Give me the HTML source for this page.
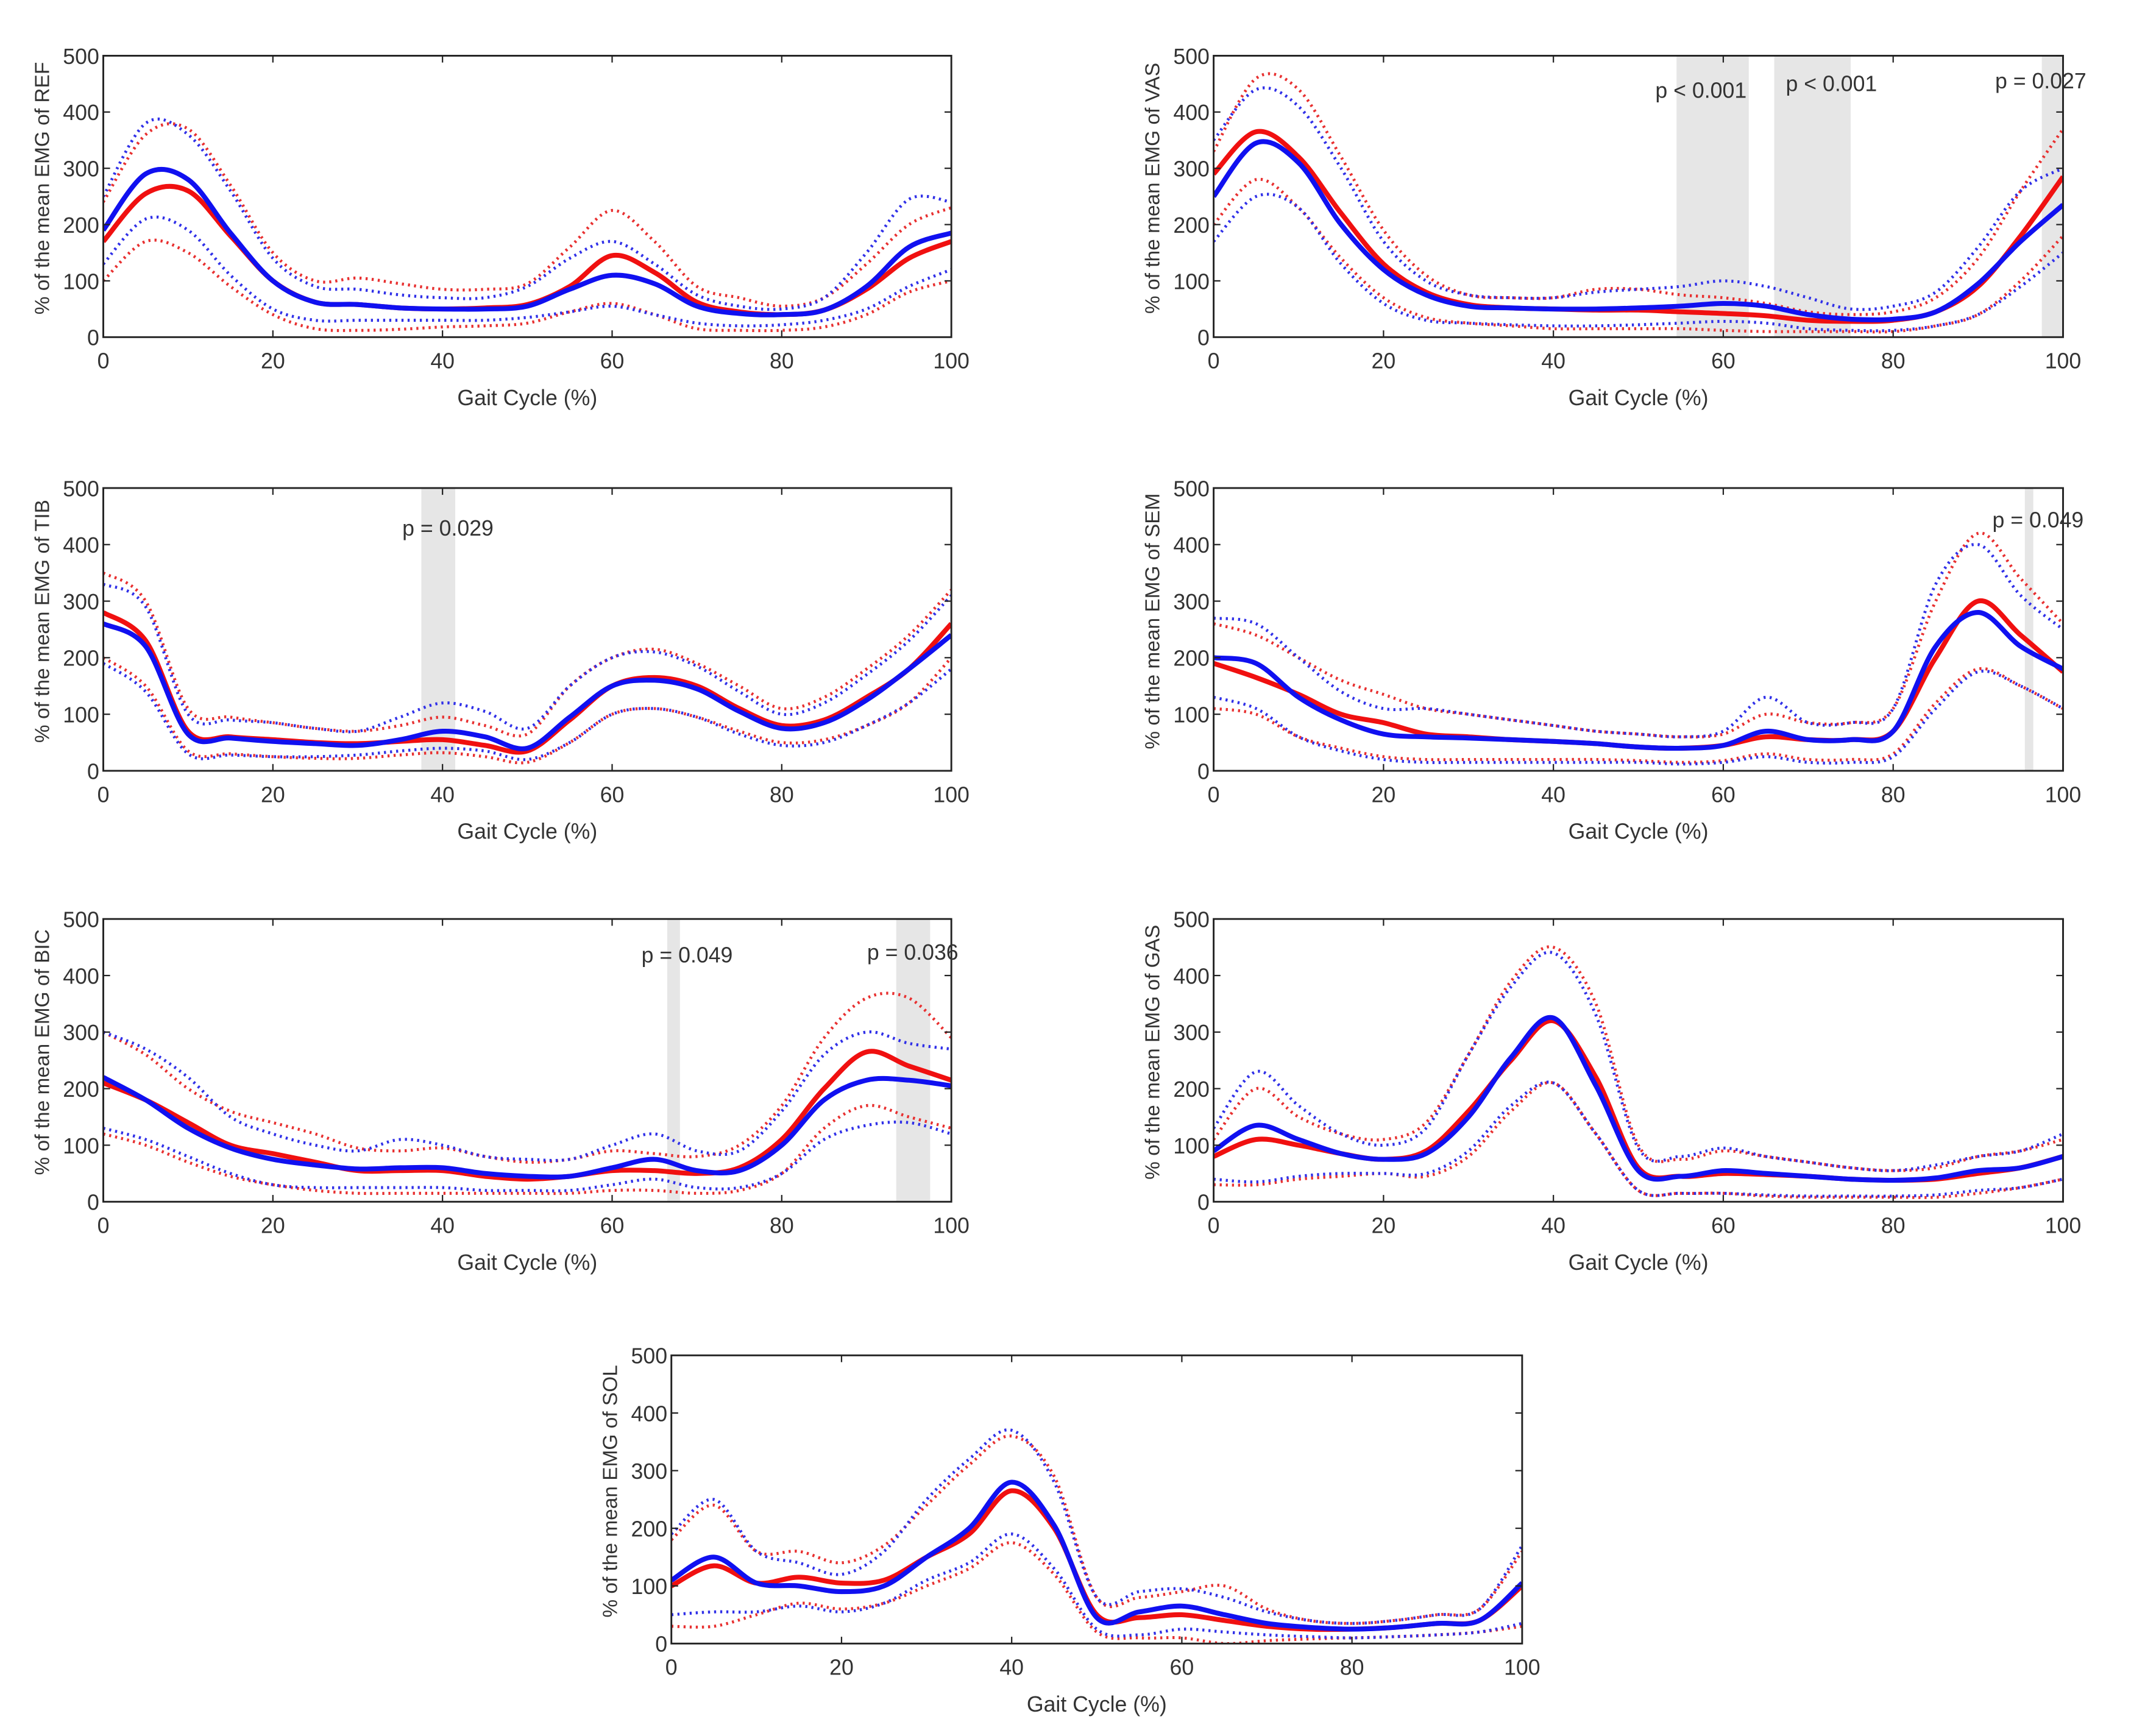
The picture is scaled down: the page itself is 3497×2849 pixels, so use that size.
<!DOCTYPE html>
<html><head><meta charset="utf-8"><style>
html,body{margin:0;padding:0;background:#fff;}
svg{display:block;}
text{font-family:"Liberation Sans",sans-serif;fill:#333;}
</style></head><body>
<svg id="fig" width="3497" height="2849" viewBox="0 0 1568 1277" preserveAspectRatio="none" xmlns="http://www.w3.org/2000/svg"></svg>
<script>
const xs=[0,5,10,15,20,25,30,35,40,45,50,55,60,65,70,75,80,85,90,95,100];
const xTicks=[0,20,40,60,80,100];
const yTicks=[0,100,200,300,400,500];
const refRed=[170,255,260,180,100,62,58,52,50,52,58,90,145,115,62,45,40,48,85,140,170];
const refBlue=[190,290,280,185,100,62,58,52,50,50,55,85,110,95,55,42,40,48,90,160,185];
const refRedUp=[240,360,370,270,150,100,105,95,85,85,95,160,225,170,90,70,55,70,130,200,230];
const refRedLo=[100,170,150,90,40,15,12,14,18,20,25,45,60,40,15,12,12,18,40,80,100];
const refBlueUp=[250,380,360,260,140,90,85,75,70,70,90,140,170,130,75,55,50,70,150,245,240];
const refBlueLo=[130,210,190,110,50,30,30,30,30,30,35,45,55,40,25,20,22,30,50,90,120];
const vasRed=[290,365,320,220,130,80,58,52,50,48,48,45,42,38,30,28,30,45,90,180,285];
const vasBlue=[250,345,310,200,120,75,55,52,50,50,52,55,60,55,40,32,32,45,95,170,235];
const vasRedUp=[330,460,440,320,190,110,75,70,70,85,85,75,70,60,45,40,45,70,140,260,370];
const vasRedLo=[200,280,230,140,70,35,25,20,15,15,15,15,12,10,10,10,10,20,40,100,180];
const vasBlueUp=[350,440,410,300,170,100,75,70,70,80,85,90,100,90,70,50,55,80,160,260,300];
const vasBlueLo=[170,250,230,130,60,30,25,22,20,20,22,25,28,25,15,12,12,20,40,90,150];
const tibRed=[280,230,70,60,55,50,48,52,55,45,35,90,150,165,150,110,80,90,130,180,260];
const tibBlue=[260,220,65,58,52,48,45,55,70,60,40,95,150,160,145,105,75,85,125,180,240];
const tibRedUp=[350,300,110,95,85,75,70,80,95,80,65,150,200,215,190,150,110,130,180,240,320];
const tibRedLo=[200,150,35,30,25,22,22,28,32,25,15,50,100,110,95,70,50,55,80,120,200];
const tibBlueUp=[330,290,100,90,85,75,70,95,120,105,75,150,200,210,185,140,100,120,170,230,310];
const tibBlueLo=[190,140,30,28,25,25,28,35,40,35,20,50,100,110,95,65,45,50,80,120,180];
const semRed=[190,165,135,100,85,65,60,55,52,48,42,40,45,60,55,55,70,200,300,240,175];
const semBlue=[200,190,130,90,65,60,58,55,52,48,42,40,45,70,55,55,70,220,280,220,180];
const semRedUp=[260,240,200,160,135,110,100,90,80,70,65,60,65,100,85,85,110,300,420,340,260];
const semRedLo=[110,100,60,40,25,20,20,20,20,20,18,15,18,30,20,20,30,120,180,150,110];
const semBlueUp=[270,260,200,140,110,110,100,90,80,70,65,60,70,130,85,85,110,330,400,310,250];
const semBlueLo=[130,110,60,35,20,15,15,15,15,15,15,12,15,25,15,15,25,110,175,150,110];
const bicRed=[210,180,140,100,85,70,55,55,55,45,40,45,55,55,50,60,110,200,265,240,215];
const bicBlue=[220,180,130,95,75,65,58,60,60,50,45,45,60,75,55,55,100,180,215,215,205];
const bicRedUp=[300,260,200,160,140,120,95,90,95,80,70,75,90,85,80,100,170,290,360,360,290];
const bicRedLo=[120,100,70,45,30,20,15,15,15,15,15,15,20,20,15,20,50,130,170,150,130];
const bicBlueUp=[300,270,220,150,120,100,90,110,100,80,75,75,100,120,90,90,160,260,300,280,270];
const bicBlueLo=[130,110,80,50,30,25,25,25,25,20,20,20,30,40,25,25,50,110,135,140,120];
const gasRed=[80,110,100,85,75,90,160,250,320,220,60,45,50,48,45,40,38,40,50,60,80];
const gasBlue=[90,135,110,85,75,85,150,255,325,205,55,45,55,50,45,40,38,42,55,60,80];
const gasRedUp=[110,200,150,120,110,140,260,390,450,350,100,75,90,80,70,60,55,60,80,90,110];
const gasRedLo=[30,30,40,45,50,45,80,160,210,120,20,15,15,10,8,8,8,8,15,25,40];
const gasBlueUp=[130,230,170,120,100,130,260,380,440,330,95,80,95,80,70,60,55,65,80,90,120];
const gasBlueLo=[40,35,45,50,50,50,90,170,210,120,20,15,15,12,10,10,10,12,20,25,40];
const solRed=[100,135,105,115,105,110,150,190,265,200,50,45,50,40,30,25,25,28,35,40,100];
const solBlue=[110,150,105,100,90,100,150,200,280,205,45,55,65,50,35,28,25,28,35,40,105];
const solRedUp=[180,240,160,160,140,170,240,310,360,290,80,80,90,100,60,40,35,40,50,60,160];
const solRedLo=[30,30,50,70,60,70,100,130,175,120,20,10,10,0,5,8,10,12,15,20,30];
const solBlueUp=[190,250,160,140,120,160,250,320,370,280,80,90,95,80,55,40,35,40,50,60,170];
const solBlueLo=[50,55,55,65,55,70,110,140,190,130,25,15,25,20,15,12,10,12,15,20,35];
const vasShade=[[54.5,63],[66,75],[97.5,100]];
const tibShade=[[37.5,41.5]];
const semShade=[[95.5,96.5]];
const bicShade=[[66.5,68],[93.5,97.5]];

const panels=[
 {id:'ref',name:'REF',box:[76,41,700,248],red:refRed,blue:refBlue,ru:refRedUp,rl:refRedLo,bu:refBlueUp,bl:refBlueLo,shade:[],notes:[]},
 {id:'vas',name:'VAS',box:[893,41,1518,248],red:vasRed,blue:vasBlue,ru:vasRedUp,rl:vasRedLo,bu:vasBlueUp,bl:vasBlueLo,shade:vasShade,notes:[['p < 0.001',1218,72],['p < 0.001',1314,67],['p = 0.027',1468,65]]},
 {id:'tib',name:'TIB',box:[76,359,700,567],red:tibRed,blue:tibBlue,ru:tibRedUp,rl:tibRedLo,bu:tibBlueUp,bl:tibBlueLo,shade:tibShade,notes:[['p = 0.029',296,394]]},
 {id:'sem',name:'SEM',box:[893,359,1518,567],red:semRed,blue:semBlue,ru:semRedUp,rl:semRedLo,bu:semBlueUp,bl:semBlueLo,shade:semShade,notes:[['p = 0.049',1466,388]]},
 {id:'bic',name:'BIC',box:[76,676,700,884],red:bicRed,blue:bicBlue,ru:bicRedUp,rl:bicRedLo,bu:bicBlueUp,bl:bicBlueLo,shade:bicShade,notes:[['p = 0.049',472,708],['p = 0.036',638,706]]},
 {id:'gas',name:'GAS',box:[893,676,1518,884],red:gasRed,blue:gasBlue,ru:gasRedUp,rl:gasRedLo,bu:gasBlueUp,bl:gasBlueLo,shade:[],notes:[]},
 {id:'sol',name:'SOL',box:[494,997,1120,1209],red:solRed,blue:solBlue,ru:solRedUp,rl:solRedLo,bu:solBlueUp,bl:solBlueLo,shade:[],notes:[]}
];
const NS='http://www.w3.org/2000/svg';
const svg=document.getElementById('fig');
function mk(tag,attrs,parent){const e=document.createElementNS(NS,tag);for(const k in attrs)e.setAttribute(k,attrs[k]);parent.appendChild(e);return e;}
function pathFor(vals,sx,sy){
 const p=xs.map((x,i)=>[sx(x),sy(vals[i])]);
 let d='M'+p[0][0].toFixed(1)+','+p[0][1].toFixed(1);
 for(let i=0;i<p.length-1;i++){
  const p0=p[Math.max(0,i-1)],p1=p[i],p2=p[i+1],p3=p[Math.min(p.length-1,i+2)];
  const c1=[p1[0]+(p2[0]-p0[0])/6,p1[1]+(p2[1]-p0[1])/6];
  const c2=[p2[0]-(p3[0]-p1[0])/6,p2[1]-(p3[1]-p1[1])/6];
  d+='C'+c1[0].toFixed(1)+','+c1[1].toFixed(1)+' '+c2[0].toFixed(1)+','+c2[1].toFixed(1)+' '+p2[0].toFixed(1)+','+p2[1].toFixed(1);
 }
 return d;
}
panels.forEach(P=>{
 const [x0,y0,x1,y1]=P.box;
 const g=mk('g',{},svg);
 
 
 const sx=v=>x0+(x1-x0)*v/100, sy=v=>y1-(y1-y0)*v/500;
 const cp=mk('clipPath',{id:'c'+P.id},g); mk('rect',{x:x0,y:y0,width:x1-x0,height:y1-y0},cp);
 P.shade.forEach((s,i)=>{const r=mk('rect',{x:sx(s[0]),y:y0,width:sx(s[1])-sx(s[0]),height:y1-y0,fill:'#e6e6e6'},g);
  
  });
 const lines=[[P.ru,'#e83030','dot'],[P.rl,'#e83030','dot'],[P.bu,'#3030e8','dot'],[P.bl,'#3030e8','dot'],[P.red,'#f01010','mean'],[P.blue,'#1010f0','mean']];
 const names=['red-upper','red-lower','blue-upper','blue-lower','red-mean','blue-mean'];
 lines.forEach((L,i)=>{
  const a={d:pathFor(L[0],sx,sy),fill:'none',stroke:L[1],'clip-path':'url(#c'+P.id+')'};
  if(L[2]==='dot'){a['stroke-width']=2.2;a['stroke-dasharray']='1.5,3';}else{a['stroke-width']=3.6;a['stroke-linejoin']='round';}
  const e=mk('path',a,g);
  
  
 });
 const fr=mk('rect',{x:x0,y:y0,width:x1-x0,height:y1-y0,fill:'none',stroke:'#222','stroke-width':1.3},g);
 
 
 xTicks.forEach(t=>{
  mk('line',{x1:sx(t),x2:sx(t),y1:y1,y2:y1-5,stroke:'#222','stroke-width':1},g);
  mk('line',{x1:sx(t),x2:sx(t),y1:y0,y2:y0+5,stroke:'#222','stroke-width':1},g);
  const tx=mk('text',{x:sx(t),y:y1+23,'font-size':16,'text-anchor':'middle'},g);tx.textContent=t;
  
  
 });
 yTicks.forEach(t=>{
  mk('line',{x1:x0,x2:x0+5,y1:sy(t),y2:sy(t),stroke:'#222','stroke-width':1},g);
  mk('line',{x1:x1,x2:x1-5,y1:sy(t),y2:sy(t),stroke:'#222','stroke-width':1},g);
  const ty=mk('text',{x:x0-3,y:sy(t)+6,'font-size':16,'text-anchor':'end'},g);ty.textContent=t;
  
  
 });
 const xl=mk('text',{x:(x0+x1)/2,y:y1+50,'font-size':16,'text-anchor':'middle'},g);xl.textContent='Gait Cycle (%)';
 
 
 const yl=mk('text',{x:0,y:0,'font-size':15,'text-anchor':'middle',transform:'translate('+(x0-40)+','+((y0+y1)/2-6)+') rotate(-90)'},g);yl.textContent='% of the mean EMG of '+P.name;
 
 
 P.notes.forEach(n=>{const t=mk('text',{x:n[1],y:n[2],'font-size':16},g);t.textContent=n[0];
  
  });
});
</script>
</body></html>
